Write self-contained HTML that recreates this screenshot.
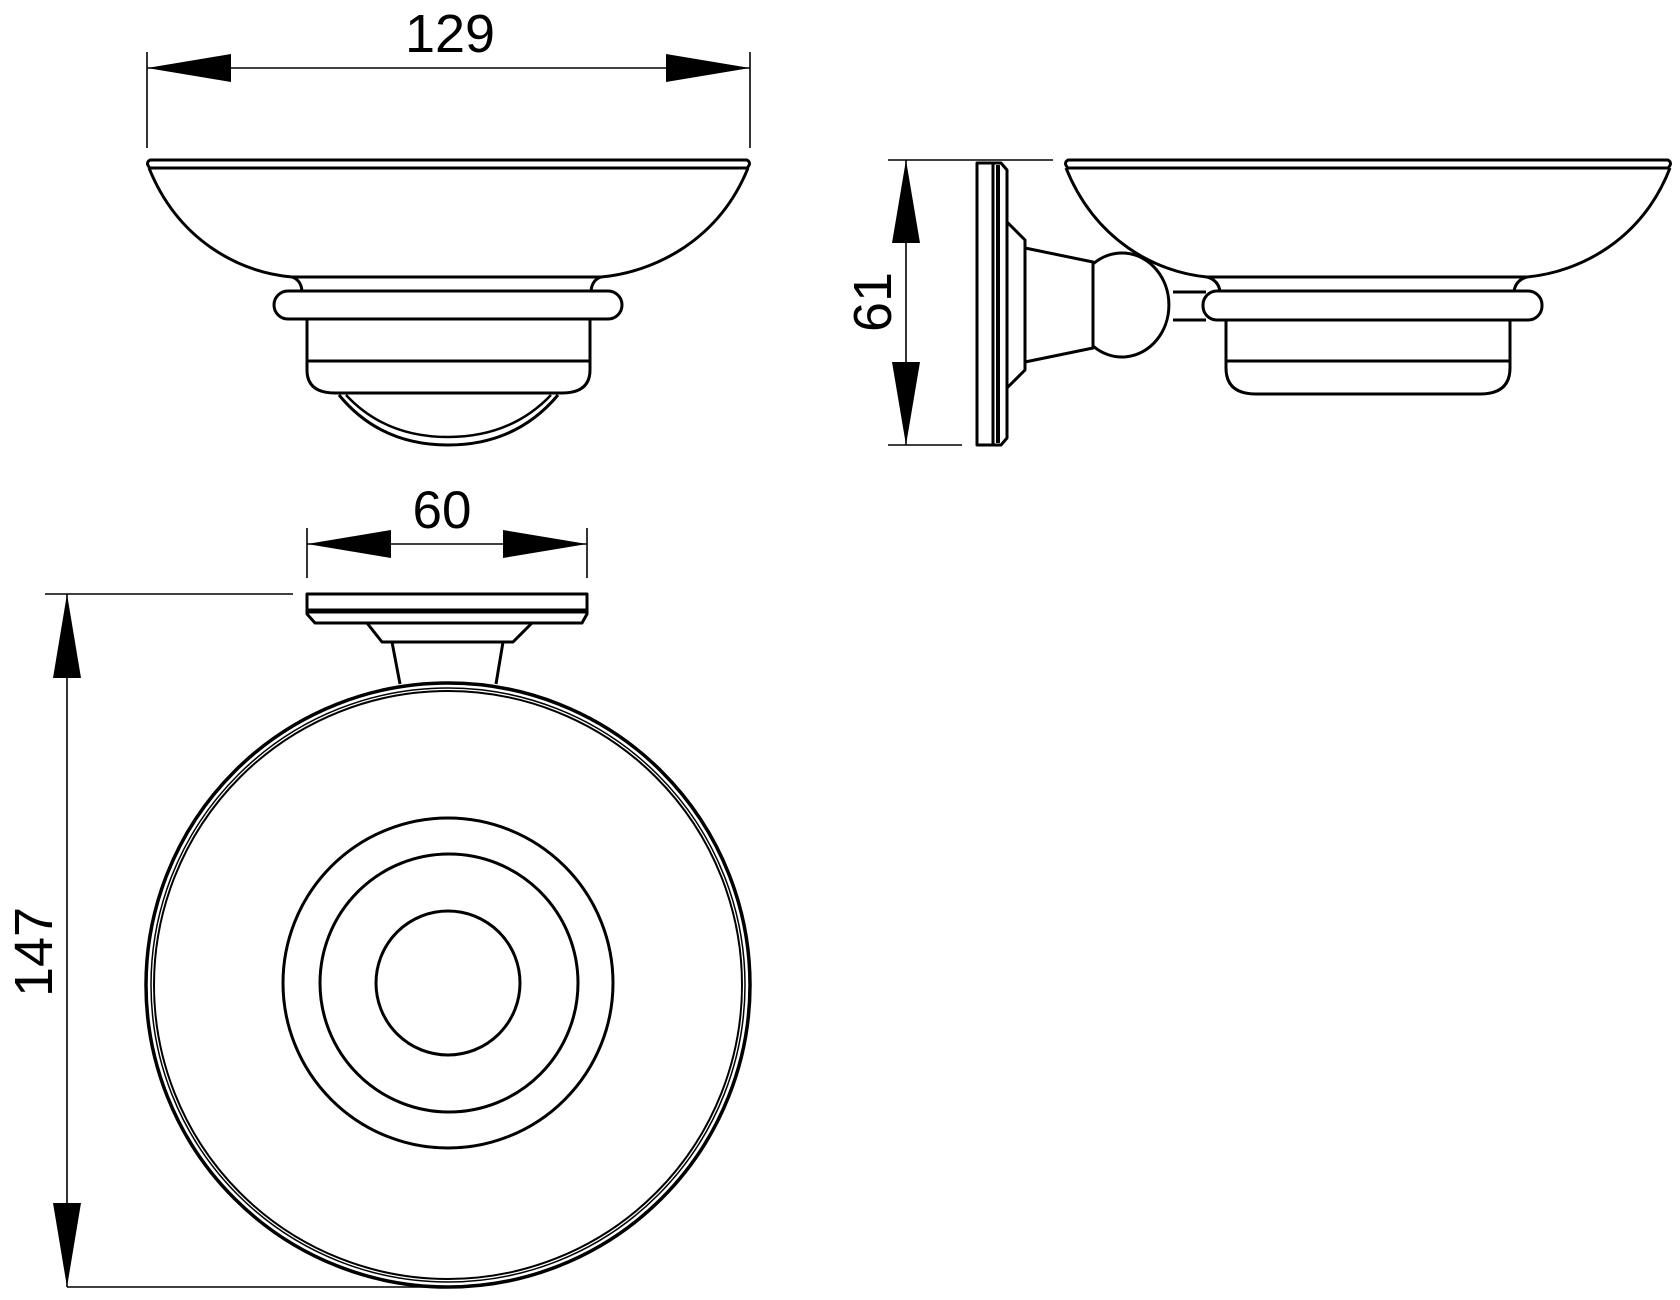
<!DOCTYPE html>
<html><head><meta charset="utf-8"><style>
html,body{margin:0;padding:0;background:#fff;}
svg{display:block}
text{font-family:"Liberation Sans",sans-serif;fill:#000}
</style></head><body>
<svg width="1680" height="1300" viewBox="0 0 1680 1300" xmlns="http://www.w3.org/2000/svg">
<g fill="none" stroke="#000" stroke-width="3" stroke-linejoin="round">

<!-- ===== Dim 129 ===== -->
<g stroke-width="1.6">
<line x1="147" y1="52" x2="147" y2="148"/>
<line x1="750" y1="52" x2="750" y2="148"/>
<line x1="147" y1="68" x2="750" y2="68"/>
</g>
<polygon points="147,68 231,54 231,82" fill="#000" stroke="none"/>
<polygon points="750,68 666,54 666,82" fill="#000" stroke="none"/>

<!-- ===== Front view ===== -->
<path d="M150,160 L747,160 Q752,163 747,168 L150,168 Q145,163 150,160 Z"/>
<path d="M149,168 C178,240 238,272 292,277 L601,277 C655,272 719,240 748,168"/>
<path d="M292,277 Q301,280 302,291 M601,277 Q592,280 591,291"/>
<rect x="274" y="291" width="348" height="28" rx="14"/>
<path d="M307,319 L307,361 L590,361 L590,319"/>
<path d="M307,361 L307,370 Q307,393 335,393 L562,393 Q590,393 590,370 L590,361"/>
<path d="M339,395 Q380,445 448,445 Q516,445 558,395"/>
<path d="M346,395 Q385,437 448,437 Q511,437 551,395" stroke-width="2.5"/>

<!-- ===== Dim 61 ===== -->
<g stroke-width="1.6">
<line x1="888" y1="160" x2="1053" y2="160"/>
<line x1="888" y1="445" x2="962" y2="445"/>
<line x1="906" y1="160" x2="906" y2="445"/>
</g>
<polygon points="906,160 892,243 920,243" fill="#000" stroke="none"/>
<polygon points="906,445 892,362 920,362" fill="#000" stroke="none"/>

<!-- ===== Side view ===== -->
<rect x="977" y="163" width="16" height="282"/>
<path d="M993,163 L1001,163 L1007,170 L1007,438 L1001,445 L993,445" stroke-width="3"/>
<line x1="998" y1="165" x2="998" y2="443" stroke-width="4"/>
<path d="M1007,222 L1025,240 L1025,370 L1007,388"/>
<path d="M1025,248 L1093,262 L1093,348 L1025,362"/>
<path d="M1093,264 A47 52 0 1 1 1093,346"/>
<path d="M1173,292 L1206,292 M1173,320 L1206,320"/>
<path d="M1068,160 L1668,160 Q1673,163 1668,168 L1068,168 Q1063,163 1068,160 Z"/>
<path d="M1066,168 C1095,240 1155,272 1207,277 L1527,277 C1580,272 1642,240 1670,168"/>
<path d="M1207,277 Q1218,280 1220,291 M1527,277 Q1516,280 1514,291"/>
<rect x="1203" y="291" width="339" height="29" rx="14"/>
<path d="M1226,320 L1226,361 L1510,361 L1510,320"/>
<path d="M1226,361 L1226,368 Q1226,394 1256,394 L1480,394 Q1510,394 1510,368 L1510,361"/>

<!-- ===== Dim 60 ===== -->
<g stroke-width="1.6">
<line x1="307" y1="528" x2="307" y2="578"/>
<line x1="587" y1="528" x2="587" y2="578"/>
<line x1="307" y1="544" x2="587" y2="544"/>
</g>
<polygon points="307,544 391,530 391,558" fill="#000" stroke="none"/>
<polygon points="587,544 503,530 503,558" fill="#000" stroke="none"/>

<!-- ===== Bottom view ===== -->
<path d="M307,594 L587,594 L587,614 L582,623 L315,623 L307,614 Z"/>
<line x1="307" y1="611" x2="587" y2="611" stroke-width="5"/>
<path d="M367,623 L382,642 L513,642 L532,623"/>
<path d="M392,642 L400,684 M503,642 L496,684"/>

<!-- Dim 147 -->
<g stroke-width="1.6">
<line x1="45" y1="594" x2="293" y2="594"/>
<line x1="67" y1="594" x2="67" y2="1287"/>
<line x1="67" y1="1287" x2="432" y2="1287"/>
</g>
<polygon points="67,594 53,678 81,678" fill="#000" stroke="none"/>
<polygon points="67,1287 53,1203 81,1203" fill="#000" stroke="none"/>

<circle cx="448" cy="985" r="302" stroke-width="3.5"/>
<circle cx="448" cy="985" r="297" stroke-width="1.5"/>
<circle cx="448" cy="985" r="294" stroke-width="2"/>
<circle cx="448" cy="983" r="165"/>
<circle cx="449" cy="983" r="129"/>
<circle cx="448" cy="983" r="72"/>
</g>

<text x="450" y="52" font-size="54" text-anchor="middle">129</text>
<text x="442" y="528" font-size="53" text-anchor="middle">60</text>
<text transform="translate(891,302) rotate(-90)" font-size="54" text-anchor="middle">61</text>
<text transform="translate(52,952) rotate(-90)" font-size="54" text-anchor="middle">147</text>
</svg>
</body></html>
